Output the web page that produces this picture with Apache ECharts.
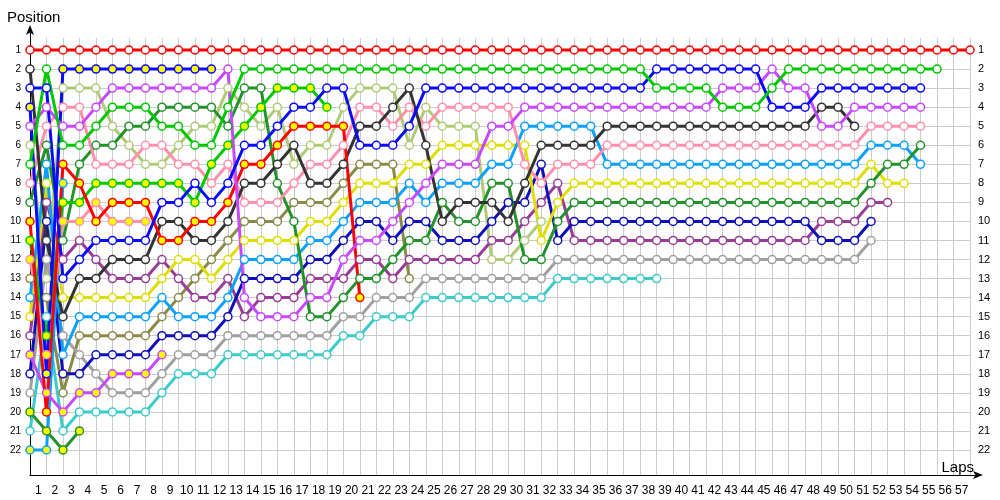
<!DOCTYPE html>
<html>
<head>
<meta charset="utf-8">
<title>Lap chart</title>
<script src="https://cdn.jsdelivr.net/npm/echarts@6.0.0/dist/echarts.min.js"></script>
<style>
  html, body { margin: 0; padding: 0; background: #fff; }
  #chart { width: 1000px; height: 500px; }
</style>
</head>
<body>
<div id="chart"></div>
<script>
// lap labels under the bands (lap 1 .. 57), positions 1..22 on both sides
const lapLabels = ['1','2','3','4','5','6','7','8','9','10','11','12','13','14','15','16','17','18','19','20',
  '21','22','23','24','25','26','27','28','29','30','31','32','33','34','35','36','37','38','39','40',
  '41','42','43','44','45','46','47','48','49','50','51','52','53','54','55','56','57']

// position of each car per lap, starting at lap 0 (grid)
const red1 = [1,1,1,1,1,1,1,1,1,1, 1,1,1,1,1,1,1,1,1,1, 1,1,1,1,1,1,1,1,1,1,
  1,1,1,1,1,1,1,1,1,1, 1,1,1,1,1,1,1,1,1,1, 1,1,1,1,1,1,1,1]
const green1 = [7,2,6,6,5,4,4,4,5,5, 6,6,4,2,2,2,2,2,2,2, 2,2,2,2,2,2,2,2,2,2,
  2,2,2,2,2,2,2,2,3,3, 3,3,4,4,4,3,2,2,2,2, 2,2,2,2,2,2]
const blue1 = [3,3,13,12,11,11,11,11,9,9, 8,9,8,6,6,5,4,4,3,3, 6,6,6,5,3,3,3,3,3,3,
  3,3,3,3,3,3,3,3,2,2, 2,2,2,2,2,4,4,4,3,3, 3,3,3,3,3]
const violet1 = [5,4,5,5,4,3,3,3,3,3, 3,3,2,14,15,15,15,14,14,12, 11,11,10,9,8,7,7,7,5,5,
  4,4,4,4,4,4,4,4,4,4, 4,4,3,3,3,2,3,3,5,5, 4,4,4,4,4]
const pink1 = [8,5,4,4,7,7,7,6,6,7, 7,8,7,9,9,9,8,7,7,6, 4,4,5,4,5,4,4,4,4,4,
  7,8,7,7,7,6,6,6,6,6, 6,6,6,6,6,6,6,6,6,6, 6,5,5,5,5]
const darkGreen1 = [9,6,11,7,6,6,5,5,4,4, 4,4,5,3,3,8,10,15,15,14, 13,13,12,11,11,9,10,10,8,8,
  12,12,10,9,9,9,9,9,9,9, 9,9,9,9,9,9,9,9,9,9, 9,8,7,7,6]
const lightBlue1 = [14,7,17,15,15,15,15,15,14,15, 15,15,14,12,12,12,12,11,11,10, 9,9,9,8,9,8,8,8,7,7,
  5,5,5,5,5,7,7,7,7,7, 7,7,7,7,7,7,7,7,7,7, 7,6,6,6,7]
const yellow1 = [15,8,14,14,14,14,14,14,13,12, 12,13,12,11,11,11,11,10,10,9, 8,8,8,7,7,6,6,6,6,6,
  6,11,9,8,8,8,8,8,8,8, 8,8,8,8,8,8,8,8,8,8, 8,7,8,8]
const navy1 = [18,10,18,18,17,17,17,17,16,16, 16,16,15,13,13,13,13,12,12,11, 10,10,11,10,10,11,11,11,10,9,
  9,7,11,10,10,10,10,10,10,10, 10,10,10,10,10,10,10,10,11,11, 11,10]
const purple1 = [16,9,12,11,12,13,13,13,12,13, 14,14,13,15,14,14,14,13,13,13, 12,12,13,12,12,12,12,12,11,11,
  10,9,8,11,11,11,11,11,11,11, 11,11,11,11,11,11,11,11,10,10, 10,9,9]
const grey1 = [19,12,16,17,18,19,19,19,18,17, 17,17,16,16,16,16,16,16,16,15, 15,14,14,14,13,13,13,13,13,13,
  13,13,12,12,12,12,12,12,12,12, 12,12,12,12,12,12,12,12,12,12, 12,11]
const teal1 = [21,15,21,20,20,20,20,20,19,18, 18,18,17,17,17,17,17,17,17,16, 16,15,15,15,14,14,14,14,14,14,
  14,14,13,13,13,13,13,13,13]
const black1 = [2,11,15,13,13,12,12,12,10,10, 11,11,10,8,8,7,6,8,8,7, 5,5,4,3,6,10,9,9,9,10,
  8,6,6,6,6,5,5,5,5,5, 5,5,5,5,5,5,5,5,4,4, 5]
const lightOlive1 = [6,13,3,3,3,5,6,7,7,6, 5,5,3,4,5,4,7,6,6,4, 3,3,3,6,4,5,5,5,12,12, 11,10]
const olive1 = [13,14,19,16,16,16,16,16,15,14, 13,12,11,10,10,10,9,9,9,8, 7,7,7,13]
const red2 = [10,20,7,8,10,9,9,9,11,11, 10,10,9,7,7,6,5,5,5,5, 14]
const blue2 = [4,18,2,2,2,2,2,2,2,2, 2,2]
const green2 = [11,16,9,9,8,8,8,8,8,8, 9,7,6,5,4,3,3,3,4]
const pink2 = [12,17,10,10,9,10,10,10]
const violet2 = [17,19,20,19,19,18,18,18,17]
const darkGreen2 = [20,21,22,21]
const lightBlue2 = [22,22,8]

// line colour and marker fill of each car
const cars = [
  { name: 'Olive', pos: olive1, color: '#8a8a48', fill: '#ffffff' },
  { name: 'Light olive', pos: lightOlive1, color: '#afcb78', fill: '#ffffff' },
  { name: 'Teal', pos: teal1, color: '#3ccaca', fill: '#ffffff' },
  { name: 'Grey', pos: grey1, color: '#a0a0a0', fill: '#ffffff' },
  { name: 'Purple', pos: purple1, color: '#983c98', fill: '#ffffff' },
  { name: 'Navy', pos: navy1, color: '#1010bb', fill: '#ffffff' },
  { name: 'Yellow', pos: yellow1, color: '#dede00', fill: '#ffffff' },
  { name: 'Light blue', pos: lightBlue1, color: '#0aa0ff', fill: '#ffffff' },
  { name: 'Light blue 2', pos: lightBlue2, color: '#0aa0ff', fill: '#ffff00' },
  { name: 'Dark green', pos: darkGreen1, color: '#22922a', fill: '#ffffff' },
  { name: 'Dark green 2', pos: darkGreen2, color: '#22922a', fill: '#ffff00' },
  { name: 'Pink', pos: pink1, color: '#ff8fab', fill: '#ffffff' },
  { name: 'Pink 2', pos: pink2, color: '#ff8fab', fill: '#ffff00' },
  { name: 'Black', pos: black1, color: '#333333', fill: '#ffffff' },
  { name: 'Violet 2', pos: violet2, color: '#c848ff', fill: '#ffff00' },
  { name: 'Green 2', pos: green2, color: '#00c800', fill: '#ffff00' },
  { name: 'Blue 2', pos: blue2, color: '#0a0aff', fill: '#ffff00' },
  { name: 'Red 2', pos: red2, color: '#ff0000', fill: '#ffff00' },
  { name: 'Violet', pos: violet1, color: '#c848ff', fill: '#ffffff' },
  { name: 'Blue', pos: blue1, color: '#0a0aff', fill: '#ffffff' },
  { name: 'Green', pos: green1, color: '#00c800', fill: '#ffffff' },
  { name: 'Red', pos: red1, color: '#ff0000', fill: '#ffffff' }
]

const chart = echarts.init(document.getElementById('chart'))

const labelFont = 'Liberation Sans, Arial, sans-serif'

const option = {
  animation: false,
  backgroundColor: '#ffffff',
  title: [
    { text: 'Position', left: 2, top: 5, textStyle: { fontSize: 15, fontWeight: 'normal', color: '#000', fontFamily: labelFont } },
    { text: 'Laps', right: 21, top: 455, textStyle: { fontSize: 15, fontWeight: 'normal', color: '#000', fontFamily: labelFont } }
  ],
  grid: [
    // vertical grid lines + lap labels
    { left: 30, right: 30, top: 38, bottom: 25 },
    // data + horizontal grid lines (position 1 .. 22)
    { left: 30, right: 30, top: 50, bottom: 50 },
    // axis lines with arrows
    { left: 30, right: 20, top: 28, bottom: 25 }
  ],
  xAxis: [
    {
      gridIndex: 0, type: 'category', data: lapLabels, boundaryGap: true,
      axisLine: { show: false }, axisTick: { show: false },
      axisLabel: { interval: 0, color: '#000', fontSize: 12, margin: 10, fontFamily: labelFont },
      splitLine: { show: true, interval: 0, lineStyle: { color: '#cccccc', width: 1 } }
    },
    {
      gridIndex: 1, type: 'value', min: 0, max: 57, show: false
    },
    {
      gridIndex: 2, type: 'value', min: 0, max: 1,
      axisLine: { show: true, symbol: ['none', 'arrow'], symbolSize: [6, 10], symbolOffset: [0, 3], lineStyle: { color: '#000', width: 1 } },
      axisTick: { show: false }, axisLabel: { show: false }, splitLine: { show: false }
    }
  ],
  yAxis: [
    { gridIndex: 0, type: 'value', min: 0, max: 1, show: false },
    {
      gridIndex: 1, type: 'value', inverse: true, min: 1, max: 22, interval: 1,
      axisLine: { show: false }, axisTick: { show: false },
      axisLabel: { color: '#000', fontSize: 10, margin: 9, fontFamily: labelFont },
      splitLine: { show: true, lineStyle: { color: '#cccccc', width: 1 } }
    },
    {
      gridIndex: 1, type: 'value', inverse: true, min: 1, max: 22, interval: 1, position: 'right',
      axisLine: { show: false }, axisTick: { show: false },
      axisLabel: { color: '#000', fontSize: 11, margin: 8, fontFamily: labelFont },
      splitLine: { show: false }
    },
    {
      gridIndex: 2, type: 'value', min: 0, max: 1,
      axisLine: { show: true, symbol: ['none', 'arrow'], symbolSize: [6, 10], symbolOffset: [0, 3], lineStyle: { color: '#000', width: 1 } },
      axisTick: { show: false }, axisLabel: { show: false }, splitLine: { show: false }
    }
  ],
  series: cars.map(car => ({
    name: car.name,
    type: 'line',
    xAxisIndex: 1,
    yAxisIndex: 1,
    clip: false,
    symbol: 'circle',
    symbolSize: 8,
    showAllSymbol: true,
    lineStyle: { color: car.color, width: 3 },
    itemStyle: { color: car.fill, borderColor: car.color, borderWidth: 1.5 },
    emphasis: { disabled: true },
    data: car.pos.map((p, lap) => [lap, p])
  }))
}

chart.setOption(option)
</script>
</body>
</html>
